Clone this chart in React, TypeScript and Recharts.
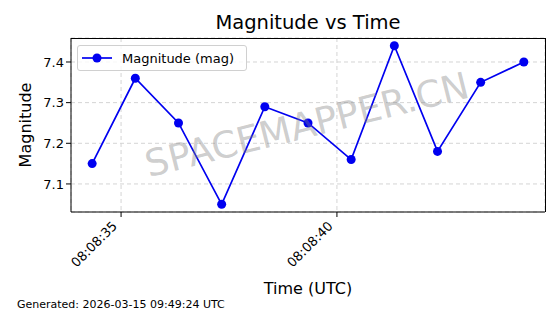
import React from 'react';
import {
  LineChart,
  Line,
  XAxis,
  YAxis,
  CartesianGrid,
} from 'recharts';

// seconds past 08:08:00 UTC
const timeSec = [34.33, 35.33, 36.33, 37.33, 38.33, 39.33, 40.33, 41.33, 42.33, 43.33, 44.33];
const magnitude = [7.15, 7.36, 7.25, 7.05, 7.29, 7.25, 7.16, 7.44, 7.18, 7.35, 7.4];
const xTicks = [35, 40];
const yTicks = [7.1, 7.2, 7.3, 7.4];

const data = timeSec.map((t, i) => ({ t, mag: magnitude[i] }));

const FONT = '"DejaVu Sans", sans-serif';
const BLUE = '#0000f0';

const fmtTime = (s: number) => `08:08:${String(Math.round(s)).padStart(2, '0')}`;

const XTick = (props: any) => {
  const { x, y, payload } = props;
  const ax = x - 10;
  const ay = y + 1;
  return (
    <text
      x={ax}
      y={ay}
      transform={`rotate(-45, ${ax}, ${ay})`}
      textAnchor="end"
      dominantBaseline="hanging"
      fontSize={13}
      fontFamily={FONT}
      fill="#000"
    >
      {fmtTime(payload.value)}
    </text>
  );
};

const LegendBox = () => (
  <div
    style={{
      position: 'absolute',
      left: 77,
      top: 45,
      border: '1px solid #d0d0d0',
      borderRadius: 3,
      background: 'rgba(255,255,255,0.8)',
      display: 'flex',
      alignItems: 'center',
      width: 168,
      height: 24,
      fontFamily: FONT,
      fontSize: 13,
      color: '#000',
    }}
  >
    <svg width={44} height={24}>
      <line x1={4} y1={12} x2={34} y2={12} stroke={BLUE} strokeWidth={1.7} />
      <circle cx={19} cy={12} r={4.5} fill={BLUE} />
    </svg>
    <span>Magnitude (mag)</span>
  </div>
);

const App = () => {
  return (
    <div style={{ position: 'absolute', left: 0, top: 0, width: 560, height: 314, background: '#fff', fontFamily: FONT }}>
      <LineChart
        width={560}
        height={314}
        data={data}
        margin={{ top: 38, right: 15, left: 0, bottom: 0 }}
      >
        <CartesianGrid stroke="#d4d4d4" strokeDasharray="4 3" />
        <XAxis
          dataKey="t"
          type="number"
          domain={[33.84, 44.82]}
          ticks={xTicks}
          height={102}
          tick={<XTick />}
          tickLine={{ stroke: '#000' }}
          tickSize={5}
          axisLine={{ stroke: '#000' }}
          allowDataOverflow
        />
        <YAxis
          type="number"
          domain={[7.031, 7.459]}
          ticks={yTicks}
          width={71}
          tickFormatter={(v: number) => v.toFixed(1)}
          tick={{ fill: '#000', fontSize: 13, fontFamily: FONT }}
          tickLine={{ stroke: '#000' }}
          tickSize={5}
          axisLine={{ stroke: '#000' }}
          allowDataOverflow
        />
        <Line
          dataKey="mag"
          stroke={BLUE}
          strokeWidth={1.7}
          dot={{ r: 4.5, fill: BLUE, stroke: BLUE, strokeWidth: 0 }}
          activeDot={false}
          isAnimationActive={false}
        />
      </LineChart>
      <LegendBox />
      {/* frame top and right */}
      <div style={{ position: 'absolute', left: 71, top: 38, width: 475, height: 174, border: '1px solid #000', borderLeft: 'none', borderBottom: 'none', boxSizing: 'border-box', pointerEvents: 'none' }} />
      <div style={{ position: 'absolute', left: 0, top: 11, width: 616, textAlign: 'center', fontSize: 19.5, color: '#000' }}>
        Magnitude vs Time
      </div>
      <div style={{ position: 'absolute', left: 0, top: 279, width: 616, textAlign: 'center', fontSize: 16, color: '#000' }}>
        Time (UTC)
      </div>
      <div
        style={{
          position: 'absolute',
          left: 25,
          top: 125,
          fontSize: 16,
          color: '#000',
          transform: 'translate(-50%, -50%) rotate(-90deg)',
          whiteSpace: 'nowrap',
        }}
      >
        Magnitude
      </div>
      <div style={{ position: 'absolute', left: 17, top: 298, fontSize: 11, color: '#000' }}>
        Generated: 2026-03-15 09:49:24 UTC
      </div>
      <div
        style={{
          position: 'absolute',
          left: 307,
          top: 125,
          fontSize: 37,
          color: 'rgba(128,128,128,0.4)',
          transform: 'translate(-50%, -50%) rotate(-14deg)',
          whiteSpace: 'nowrap',
          pointerEvents: 'none',
        }}
      >
        SPACEMAPPER.CN
      </div>
    </div>
  );
};

export default App;
